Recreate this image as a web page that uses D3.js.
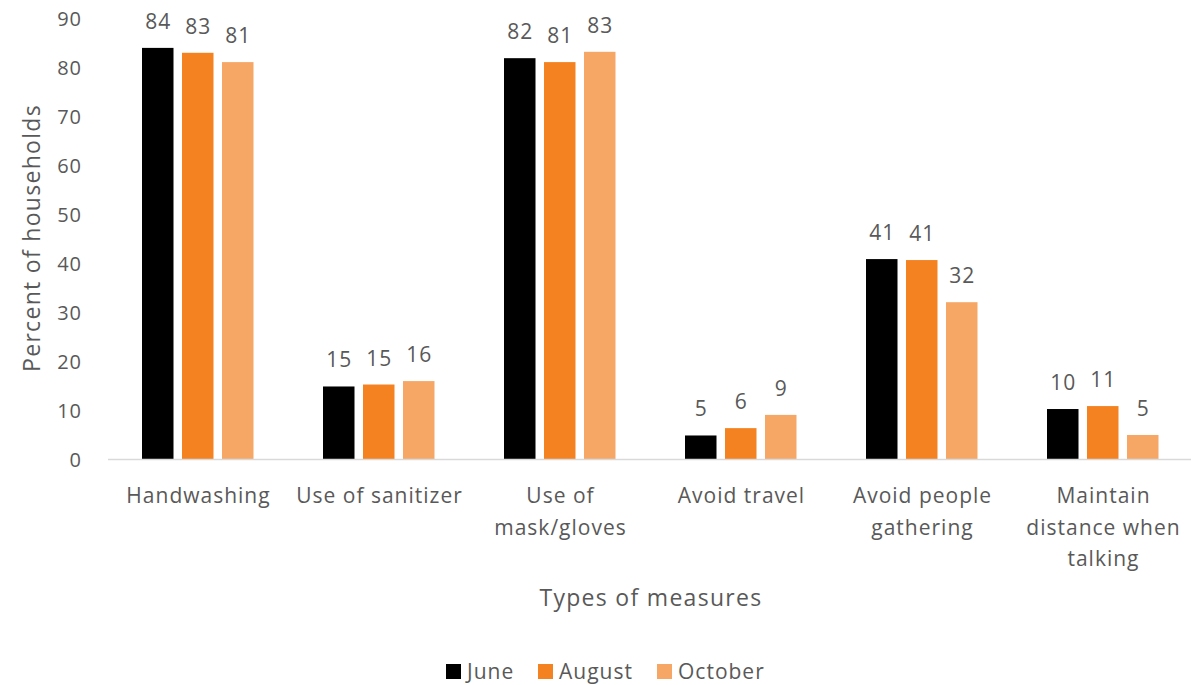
<!DOCTYPE html>
<html>
<head>
<meta charset="utf-8">
<script src="https://cdn.jsdelivr.net/npm/d3@7"></script>
<style>
  html, body { margin: 0; padding: 0; background: #ffffff; }
  svg { display: block; }
  text { font-family: "Open Sans", "Liberation Sans", sans-serif; fill: #595959; font-weight: 400; }
</style>
</head>
<body>
<svg id="chart" width="1191" height="685"></svg>
<script>
// ---- Data ----
const categories = [
  ["Handwashing"],
  ["Use of sanitizer"],
  ["Use of", "mask/gloves"],
  ["Avoid travel"],
  ["Avoid people", "gathering"],
  ["Maintain", "distance when", "talking"]
];
const seriesNames = ["June", "August", "October"];
const june    = [83.9, 14.8, 81.8, 4.8, 40.8, 10.2];
const august  = [82.9, 15.2, 81.0, 6.3, 40.6, 10.8];
const october = [81.0, 15.9, 83.1, 9.0, 32.0, 4.9];
const yTicks = [0, 10, 20, 30, 40, 50, 60, 70, 80, 90];
const colors = ["#000000", "#F58220", "#F6A766"];

const seriesValues = [june, august, october];
const catKeys = categories.map(c => c.join(" "));
const rows = catKeys.map((k, i) => ({
  key: k,
  lines: categories[i],
  values: seriesNames.map((s, j) => ({ series: s, value: seriesValues[j][i], color: colors[j] }))
}));

const svg = d3.select("#chart");

const x0 = d3.scaleBand().domain(catKeys).range([107.5, 1193.5]).paddingInner(0).paddingOuter(0);
const x1 = d3.scaleBand().domain(seriesNames).range([34.5, 146]).paddingInner(0.2125).paddingOuter(0);
const y = d3.scaleLinear().domain([0, 90]).range([459, 18]);

// Y axis tick labels (no line)
const yAxis = d3.axisLeft(y).tickValues(yTicks).tickSize(0).tickPadding(0);
const yg = svg.append("g").attr("transform", "translate(82,0)").call(yAxis);
yg.select(".domain").remove();
yg.selectAll("text")
  .attr("font-family", null)
  .style("font-size", "20px")
  .style("letter-spacing", "1px")
  .attr("x", 0)
  .attr("dy", "0.36em");

// Bars
const groups = svg.append("g").selectAll("g")
  .data(rows).join("g")
  .attr("transform", d => `translate(${x0(d.key)},0)`);

groups.selectAll("rect")
  .data(d => d.values).join("rect")
  .attr("x", d => x1(d.series))
  .attr("width", x1.bandwidth())
  .attr("y", d => y(d.value))
  .attr("height", d => y(0) - y(d.value))
  .attr("fill", d => d.color);

groups.selectAll("text.lbl")
  .data(d => d.values).join("text")
  .attr("class", "lbl")
  .attr("x", d => x1(d.series) + x1.bandwidth() / 2 + 0.5)
  .attr("y", d => y(d.value) - 19)
  .attr("text-anchor", "middle")
  .style("font-size", "21px")
  .style("letter-spacing", "1px")
  .text(d => d3.format(".0f")(d.value));

// X axis line
const xAxis = d3.axisBottom(x0).tickSize(0).tickFormat("");
const xg = svg.append("g").attr("transform", `translate(0,${y(0)})`).call(xAxis);
xg.select(".domain").attr("stroke", "#d9d9d9").attr("stroke-width", 1.5);

// Category labels (multi-line)
const catLbl = svg.append("g").selectAll("text")
  .data(rows).join("text")
  .attr("text-anchor", "middle")
  .attr("x", d => x0(d.key) + x0.bandwidth() / 2)
  .attr("y", 503)
  .style("font-size", "21px")
  .style("letter-spacing", "1px");
catLbl.selectAll("tspan")
  .data(d => d.lines.map(l => ({ l, x: x0(d.key) + x0.bandwidth() / 2 + 0.5 })))
  .join("tspan")
  .attr("x", d => d.x)
  .attr("dy", (d, i) => i === 0 ? 0 : 31.5)
  .text(d => d.l);

// Axis titles
svg.append("text")
  .attr("x", 651).attr("y", 606)
  .attr("text-anchor", "middle")
  .style("font-size", "23px")
  .style("letter-spacing", "1.3px")
  .text("Types of measures");

svg.append("text")
  .attr("transform", "translate(40,238) rotate(-90)")
  .attr("text-anchor", "middle")
  .style("font-size", "23px")
  .style("letter-spacing", "1.3px")
  .text("Percent of households");

// Legend
const legendX = [446, 538, 657];
const leg = svg.append("g").selectAll("g")
  .data(seriesNames).join("g")
  .attr("transform", (d, i) => `translate(${legendX[i]},664)`);
leg.append("rect").attr("width", 15).attr("height", 15).attr("fill", (d, i) => colors[i]);
leg.append("text").attr("x", 21).attr("y", 15)
  .style("font-size", "21px")
  .style("letter-spacing", "1px")
  .text(d => d);
</script>
</body>
</html>
